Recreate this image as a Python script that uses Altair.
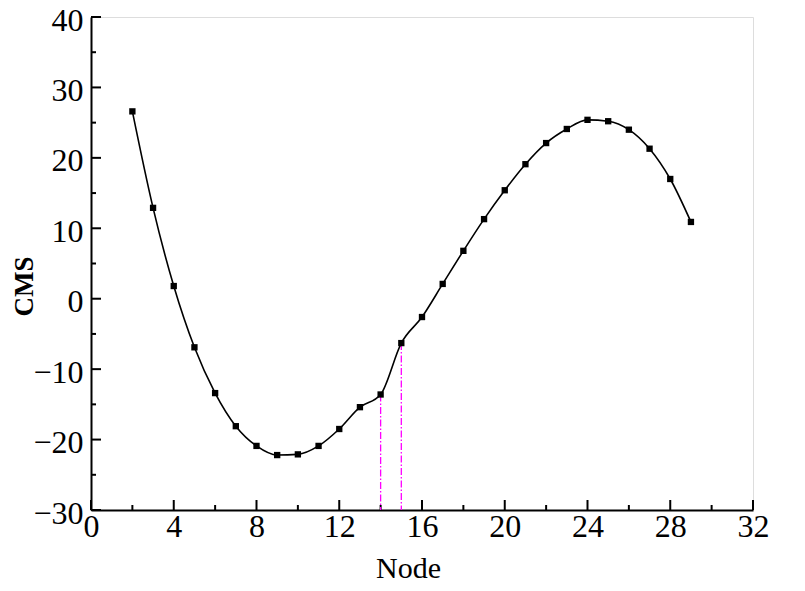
import altair as alt
import pandas as pd

nodes = list(range(2, 30))
cms = [26.6, 12.9, 1.8, -6.9, -13.4, -18.1, -20.9, -22.2, -22.1, -20.9,
       -18.5, -15.4, -13.6, -6.3, -2.6, 2.1, 6.8, 11.3, 15.4, 19.1,
       22.1, 24.1, 25.4, 25.2, 24.0, 21.3, 17.0, 10.9]

marker_nodes = [14, 15]
x_major = [0, 4, 8, 12, 16, 20, 24, 28, 32]
x_minor = [2, 6, 10, 14, 18, 22, 26, 30]
y_major = [-30, -20, -10, 0, 10, 20, 30, 40]
y_minor = [-25, -15, -5, 5, 15, 25, 35]

W, H = 662, 493
FONT = "Liberation Serif"

df = pd.DataFrame({"Node": nodes, "CMS": cms})
dm = df[df["Node"].isin(marker_nodes)]

xs = alt.Scale(domain=[0, 32], nice=False, zero=False)
ys = alt.Scale(domain=[-30, 40], nice=False, zero=False)

xaxis = alt.Axis(values=x_major, title="Node", tickSize=0, grid=False,
                 labelFont=FONT, labelFontSize=32, labelColor="black",
                 labelPadding=1, titleFont=FONT, titleFontSize=30,
                 titleFontWeight="normal", titleColor="black",
                 titleX=317, titleY=67, titleBaseline="alphabetic",
                 titleAlign="center",
                 domainColor="black", domainWidth=2, labelFlush=False)
yaxis = alt.Axis(values=y_major, title="CMS", tickSize=0, grid=False,
                 labelFont=FONT, labelFontSize=32, labelColor="black",
                 labelPadding=8, labelOffset=3, titleFont=FONT, titleFontSize=27,
                 titleFontWeight="bold", titleColor="black",
                 titleX=-59, titleY=269, titleAngle=-90,
                 titleBaseline="alphabetic", titleAlign="center",
                 domainColor="black", domainWidth=2, labelFlush=False)

base = alt.Chart(df)

line = base.mark_line(color="black", strokeWidth=1.6, interpolate="monotone").encode(
    x=alt.X("Node:Q", scale=xs, axis=xaxis),
    y=alt.Y("CMS:Q", scale=ys, axis=yaxis),
)
pts = base.mark_square(color="black", size=40, opacity=1).encode(
    x=alt.X("Node:Q", scale=xs),
    y=alt.Y("CMS:Q", scale=ys),
)
vlines = alt.Chart(dm).mark_rule(color="#FF00FF", strokeWidth=1.3,
                                 strokeDash=[7, 2, 1.5, 2]).encode(
    x=alt.X("Node:Q", scale=xs),
    y=alt.Y("CMS:Q", scale=ys),
    y2=alt.value(H),
)

def xticks(vals, ln):
    return alt.Chart(pd.DataFrame({"t": vals})).mark_rule(color="black", strokeWidth=2).encode(
        x=alt.X("t:Q", scale=xs), y=alt.value(H), y2=alt.value(H - ln))

def yticks(vals, ln):
    return alt.Chart(pd.DataFrame({"t": vals})).mark_rule(color="black", strokeWidth=2).encode(
        y=alt.Y("t:Q", scale=ys), x=alt.value(0), x2=alt.value(ln))

chart = alt.layer(
    xticks(x_major, 10), xticks(x_minor, 5),
    yticks(y_major, 10), yticks(y_minor, 5),
    vlines, line, pts,
).properties(
    width=W, height=H,
    autosize=alt.AutoSizeParams(type="none"),
    padding={"left": 83, "top": 9, "right": 30, "bottom": 74},
).configure_view(stroke="black", strokeWidth=2).configure(background="white")

chart.save("out.html", embed_options={"renderer": "svg", "actions": False})
